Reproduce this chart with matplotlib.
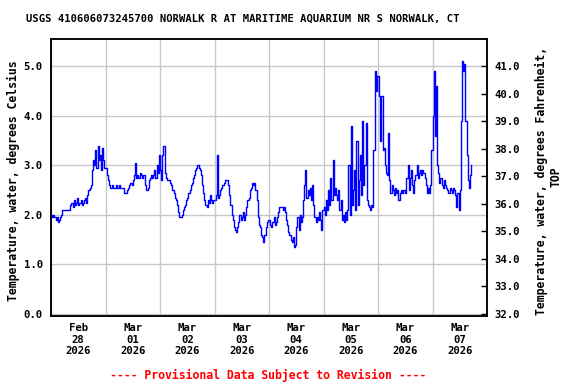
import matplotlib
matplotlib.use("Agg")
import matplotlib.pyplot as plt
import matplotlib.dates as mdates
import numpy as np
import pandas as pd

title = "USGS 410606073245700 NORWALK R AT MARITIME AQUARIUM NR S NORWALK, CT"
ylabel_left = "Temperature, water, degrees Celsius"
ylabel_right_1 = "Temperature, water, degrees Fahrenheit,"
ylabel_right_2 = "TOP"
footer = "---- Provisional Data Subject to Revision ----"

start = "2026-02-28 00:00"
# half-hourly water temperature readings (deg C), one list per day
feb28 = [2.0, 1.95, 2.0, 1.95, 1.9, 1.95, 1.85, 1.9, 1.95, 2.0, 2.1, 2.1,
         2.1, 2.1, 2.1, 2.1, 2.1, 2.2, 2.25, 2.15, 2.3, 2.2, 2.25, 2.35,
         2.2, 2.25, 2.3, 2.2, 2.25, 2.3, 2.35, 2.25, 2.4, 2.5, 2.55, 2.6,
         2.9, 3.1, 3.0, 3.3, 2.95, 3.4, 3.1, 3.2, 2.9, 3.35, 3.1, 2.95]
mar01 = [2.95, 2.8, 2.7, 2.6, 2.55, 2.55, 2.6, 2.55, 2.55, 2.6, 2.55, 2.55,
         2.6, 2.55, 2.55, 2.55, 2.45, 2.45, 2.45, 2.5, 2.55, 2.6, 2.65, 2.6,
         2.7, 2.8, 3.05, 2.75, 2.8, 2.75, 2.85, 2.8, 2.75, 2.8, 2.8, 2.6,
         2.5, 2.55, 2.7, 2.75, 2.8, 2.75, 2.8, 2.9, 2.75, 3.0, 2.85, 3.2]
mar02 = [2.9, 2.7, 3.2, 3.4, 2.85, 2.75, 2.7, 2.7, 2.7, 2.65, 2.6, 2.5,
         2.45, 2.35, 2.3, 2.2, 2.05, 1.95, 1.95, 2.0, 2.1, 2.15, 2.2, 2.3,
         2.35, 2.45, 2.5, 2.6, 2.65, 2.75, 2.8, 2.9, 2.95, 3.0, 2.95, 2.9,
         2.8, 2.6, 2.45, 2.3, 2.2, 2.15, 2.3, 2.25, 2.4, 2.3, 2.25, 2.3]
mar03 = [2.3, 2.4, 3.2, 2.35, 2.4, 2.5, 2.55, 2.6, 2.65, 2.7, 2.7, 2.7,
         2.6, 2.4, 2.2, 2.0, 1.9, 1.75, 1.7, 1.65, 1.75, 1.85, 2.0, 1.9,
         1.95, 2.05, 1.9, 2.0, 2.15, 2.3, 2.35, 2.5, 2.55, 2.65, 2.6, 2.65,
         2.5, 2.3, 1.95, 1.8, 1.75, 1.6, 1.55, 1.45, 1.6, 1.75, 1.85, 1.9]
mar04 = [1.9, 1.8, 1.75, 1.85, 1.95, 1.8, 1.85, 1.95, 2.05, 2.15, 2.15, 2.15,
         2.1, 2.15, 2.05, 1.9, 1.8, 1.65, 1.6, 1.5, 1.45, 1.55, 1.35, 1.4,
         1.75, 1.95, 1.7, 2.0, 1.85, 1.95, 2.3, 2.6, 2.9, 2.35, 2.5, 2.4,
         2.55, 2.3, 2.6, 2.2, 1.95, 1.85, 1.95, 1.9, 2.05, 1.9, 1.7, 2.1]
mar05 = [2.15, 2.0, 2.3, 2.1, 2.5, 2.2, 2.75, 2.3, 3.1, 2.4, 2.55, 2.4,
         2.3, 2.5, 2.1, 2.3, 1.9, 2.0, 1.85, 2.05, 1.9, 2.1, 3.0, 2.0,
         3.8, 2.2, 2.5, 2.9, 2.1, 3.5, 2.2, 2.7, 3.2, 2.4, 3.9, 2.6,
         3.0, 3.85, 2.3, 2.2, 2.15, 2.1, 2.2, 2.15, 3.3, 4.9, 4.5, 4.8]
mar06 = [4.8, 4.4, 3.5, 4.4, 3.3, 3.35, 3.0, 2.85, 2.8, 3.65, 2.7, 2.45,
         2.6, 2.5, 2.4, 2.55, 2.45, 2.5, 2.3, 2.45, 2.5, 2.45, 2.5, 2.5,
         2.45, 2.75, 3.0, 2.5, 2.75, 2.9, 2.6, 2.45, 2.7, 2.8, 3.0, 2.75,
         2.85, 2.9, 2.8, 2.9, 2.85, 2.75, 2.6, 2.45, 2.55, 2.45, 2.6, 3.3]
mar07 = [4.0, 4.9, 3.6, 4.6, 3.0, 2.85, 2.65, 2.75, 2.6, 2.55, 2.7, 2.6,
         2.55, 2.5, 2.45, 2.55, 2.5, 2.45, 2.55, 2.5, 2.4, 2.15, 2.45, 2.1,
         2.5, 3.9, 5.1, 4.9, 5.05, 3.9, 3.2, 2.7, 2.55, 2.8, 3.0]

temps_c = np.array(feb28 + mar01 + mar02 + mar03 + mar04 + mar05 + mar06 + mar07)
times = pd.date_range(start, periods=len(temps_c), freq="30min")

fig = plt.figure(figsize=(5.76, 3.84), dpi=100)
ax = fig.add_axes([51/576, 1-316/384, 436/576, 277/384])

ax.plot(times, temps_c, color="#0000FF", lw=1.0, drawstyle="steps-post", zorder=3)

mono = "DejaVu Sans Mono"
x0 = pd.Timestamp("2026-02-28 00:00")
x1 = pd.Timestamp("2026-03-08 00:00")
ax.set_xlim(x0, x1)
ax.set_ylim(-0.04, 5.55)

ax.xaxis.set_major_locator(mdates.HourLocator(byhour=[12]))
ax.xaxis.set_major_formatter(mdates.DateFormatter("%b\n%d\n%Y"))
ax.xaxis.set_minor_locator(mdates.DayLocator())
ax.set_yticks(np.arange(0, 5.01, 1.0))
ax.yaxis.set_major_formatter(matplotlib.ticker.FormatStrFormatter("%.1f"))

ax.grid(which="minor", axis="x", color="#C8C8C8", lw=1.0)
ax.grid(which="major", axis="y", color="#C8C8C8", lw=1.0)
ax.grid(which="major", axis="x", visible=False)
ax.tick_params(axis="x", which="both", length=0, pad=5)
ax.tick_params(axis="y", length=0, pad=6)
for lab in ax.get_xticklabels() + ax.get_yticklabels():
    lab.set_family(mono); lab.set_weight("bold"); lab.set_fontsize(7.7)
for sp in ax.spines.values():
    sp.set_linewidth(1.1)

ax2 = ax.twinx()
lo, hi = ax.get_ylim()
ax2.set_ylim(lo*1.8+32, hi*1.8+32)
ax2.set_yticks(np.arange(32, 41.01, 1.0))
ax2.yaxis.set_major_formatter(matplotlib.ticker.FormatStrFormatter("%.1f"))
ax2.tick_params(axis="y", direction="in", length=4, width=1, pad=5)
for lab in ax2.get_yticklabels():
    lab.set_family(mono); lab.set_weight("bold"); lab.set_fontsize(7.7)
for sp in ax2.spines.values():
    sp.set_linewidth(1.1)

fig.text(13/576, 1-181/384, ylabel_left, family=mono, weight="bold", fontsize=8.3,
         rotation=90, ha="center", va="center")
fig.text(541/576, 1-181/384, ylabel_right_1, family=mono, weight="bold", fontsize=8.3,
         rotation=90, ha="center", va="center")
fig.text(556/576, 1-177/384, ylabel_right_2, family=mono, weight="bold", fontsize=8.3,
         rotation=90, ha="center", va="center")

fig.text(243/576, 1-19/384, title, family=mono, weight="bold", fontsize=7.6,
         ha="center", va="center")
fig.text(268/576, 1-375/384, footer, family=mono, weight="bold", fontsize=8.3,
         color="red", ha="center", va="center")

fig.savefig("out.png", dpi=100)
